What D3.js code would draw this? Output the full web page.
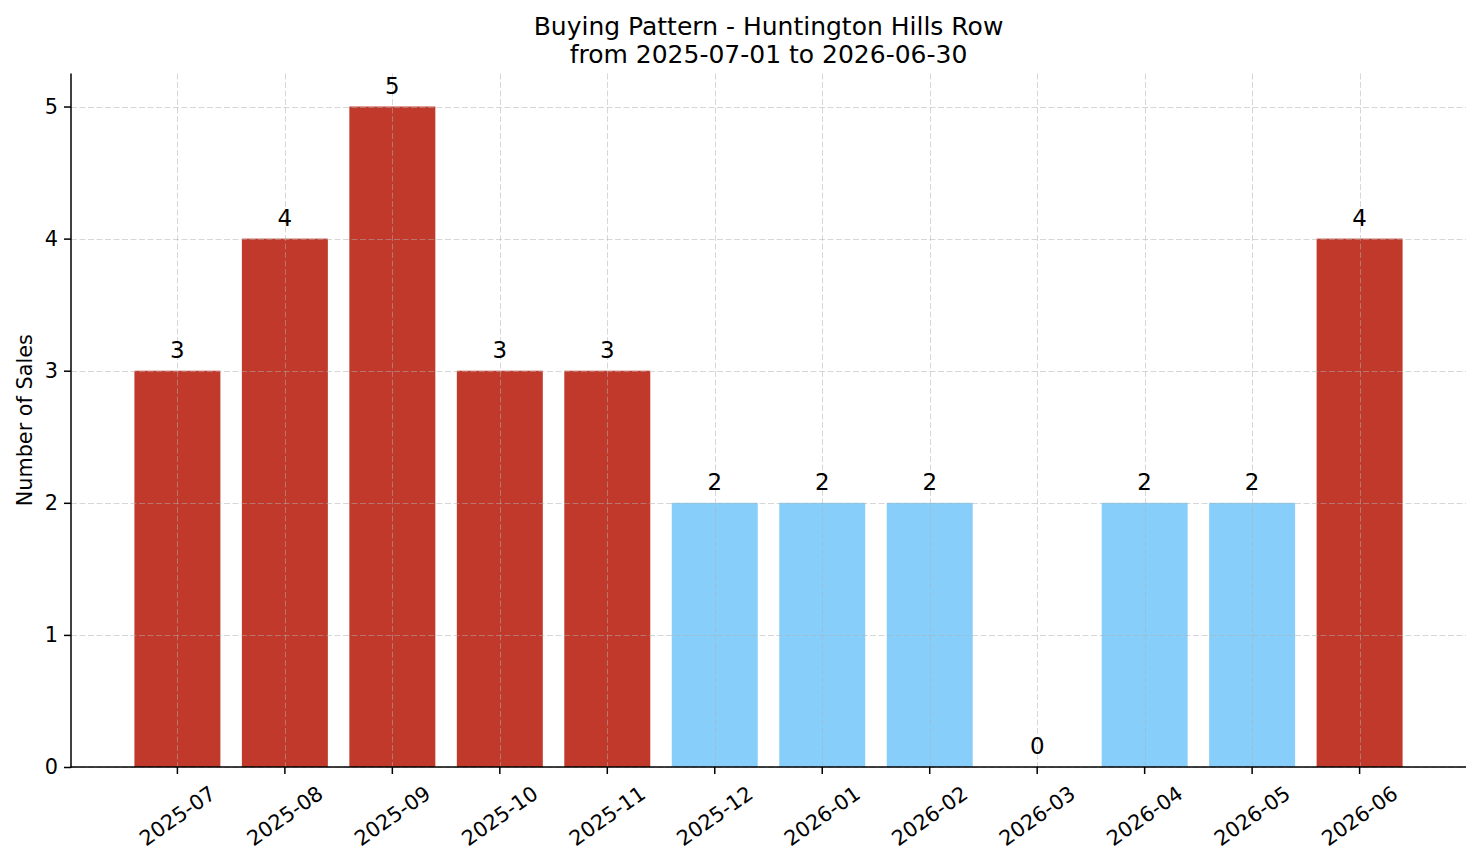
<!DOCTYPE html>
<html>
<head>
<meta charset="utf-8">
<script src="https://cdn.jsdelivr.net/npm/d3@7/dist/d3.min.js"></script>
<style>
  html, body { margin: 0; padding: 0; background: #fff; }
  svg { display: block; font-family: "DejaVu Sans", sans-serif; }
</style>
</head>
<body>
<svg id="chart" width="1481" height="863"></svg>
<script>
const months = ["2025-07","2025-08","2025-09","2025-10","2025-11","2025-12","2026-01","2026-02","2026-03","2026-04","2026-05","2026-06"];
const sales = [3, 4, 5, 3, 3, 2, 2, 2, 0, 2, 2, 4];
const yTicks = [0, 1, 2, 3, 4, 5];
const titleLines = ["Buying Pattern - Huntington Hills Row", "from 2025-07-01 to 2026-06-30"];
const yLabel = "Number of Sales";

const highColor = "#c0392b";
const lowColor = "#87cefa";
const avg = d3.mean(sales);

const W = 1481, H = 863;
const m = { left: 71, right: 1466, top: 73.5, bottom: 767 };
const svg = d3.select("#chart");

const barW = 0.8;
const dataMin = -barW / 2, dataMax = months.length - 1 + barW / 2;
const pad = (dataMax - dataMin) * 0.05;
const x = d3.scaleLinear().domain([dataMin - pad, dataMax + pad]).range([m.left, m.right]);
const y = d3.scaleLinear().domain([0, d3.max(sales) * 1.05]).range([m.bottom, m.top]);

const tickFs = 20.8, valFs = 22.9, titleFs = 25, labelFs = 20.8;

// bars
svg.append("g").selectAll("rect").data(sales).join("rect")
  .attr("x", (d, i) => x(i - barW / 2))
  .attr("width", (d, i) => x(i + barW / 2) - x(i - barW / 2))
  .attr("y", d => y(d))
  .attr("height", d => y(0) - y(d))
  .attr("fill", d => d > avg ? highColor : lowColor);

// grid (drawn above bars, like matplotlib default)
const grid = svg.append("g").attr("stroke", "#b0b0b0").attr("stroke-opacity", 0.5)
  .attr("stroke-width", 1).attr("stroke-dasharray", "6,2.5");
grid.selectAll("line.gx").data(months).join("line").attr("class", "gx")
  .attr("x1", (d, i) => Math.round(x(i)) + 0.5).attr("x2", (d, i) => Math.round(x(i)) + 0.5)
  .attr("y1", m.top).attr("y2", m.bottom);
grid.selectAll("line.gy").data(yTicks).join("line").attr("class", "gy")
  .attr("x1", m.left).attr("x2", m.right)
  .attr("y1", d => Math.round(y(d)) + 0.5).attr("y2", d => Math.round(y(d)) + 0.5);

// y axis
const yAxis = d3.axisLeft(y).tickValues(yTicks).tickFormat(d3.format("d")).tickSizeOuter(0).tickSize(7).tickPadding(6);
const gy = svg.append("g").attr("transform", `translate(${m.left},0)`).call(yAxis);
gy.select(".domain").remove();
gy.selectAll(".tick line").attr("stroke", "#000").attr("stroke-width", 1.5);
gy.selectAll(".tick text").attr("font-size", tickFs).attr("fill", "#000").attr("font-family", "DejaVu Sans");

// x axis ticks
const xTickG = svg.append("g");
xTickG.selectAll("line").data(months).join("line")
  .attr("x1", (d, i) => x(i)).attr("x2", (d, i) => x(i))
  .attr("y1", m.bottom).attr("y2", m.bottom + 7)
  .attr("stroke", "#000").attr("stroke-width", 1.5);

const theta = 35 * Math.PI / 180;
const xl = xTickG.selectAll("text").data(months).join("text")
  .attr("font-size", tickFs).attr("text-anchor", "middle").attr("fill", "#000")
  .attr("y", 0.346 * tickFs)
  .text(d => d);
xl.each(function(d, i) {
  const L = this.getComputedTextLength();
  const lh = tickFs * 1.164;
  const bh = L * Math.sin(theta) + lh * Math.cos(theta);
  const cy = m.bottom + 7 + 7 + bh / 2;
  d3.select(this).attr("transform", `translate(${x(i)},${cy}) rotate(-35)`);
});

// spines
svg.append("line").attr("x1", m.left).attr("x2", m.left).attr("y1", m.top).attr("y2", m.bottom + 0.75)
  .attr("stroke", "#000").attr("stroke-width", 1.5);
svg.append("line").attr("x1", m.left - 0.75).attr("x2", m.right).attr("y1", m.bottom).attr("y2", m.bottom)
  .attr("stroke", "#000").attr("stroke-width", 1.5);

// value labels
svg.append("g").selectAll("text").data(sales).join("text")
  .attr("x", (d, i) => x(i)).attr("y", d => y(d) - 13)
  .attr("text-anchor", "middle").attr("font-size", valFs).attr("fill", "#000")
  .text(d => d);

// title
svg.append("g").selectAll("text").data(titleLines).join("text")
  .attr("x", (m.left + m.right) / 2).attr("y", (d, i) => 34.5 + i * 28.4)
  .attr("text-anchor", "middle").attr("font-size", titleFs).attr("fill", "#000")
  .text(d => d);

// y label
svg.append("text").attr("transform", `translate(32,${(m.top + m.bottom) / 2}) rotate(-90)`)
  .attr("text-anchor", "middle").attr("font-size", labelFs).attr("fill", "#000")
  .text(yLabel);
</script>
</body>
</html>
